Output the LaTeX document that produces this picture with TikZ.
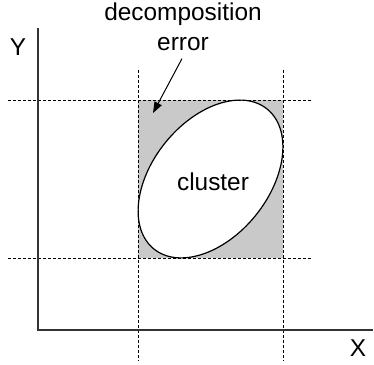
\documentclass[tikz,border=0pt]{standalone}
\usepackage{fontspec}
\setmainfont{Liberation Sans}
\usetikzlibrary{arrows.meta, calc}
\tikzset{
  axis/.style={
    line width=0.65pt,
    draw=black!80
  },
  guide/.style={
    line width=0.45pt,
    dash pattern=on 1.5pt off 1pt
  },
  errorzone/.style={
    fill=gray!42,
    draw=none
  },
  clusterline/.style={
    line width=0.6pt,
    fill=white
  },
  label/.style={
    font=\fontsize{12.2}{15}\selectfont,
    align=center,
    inner sep=0pt
  },
  pointer/.style={
    line width=0.5pt,
    -{Triangle[length=5.5pt, width=4pt]}
  }
}
\begin{document}
\begin{tikzpicture}[x=0.5pt, y=0.5pt]
  \useasboundingbox (0,0) rectangle (374,364);

  % --- ERROR ZONE AND CLUSTER ---
  \fill[errorzone] (138,106) rectangle (283,264);
  \coordinate (C) at (210.5,185);
  \draw[clusterline] (C) ellipse [x radius=90, y radius=58, rotate=51];
  \node (cluster) [label] at (213,182) {cluster};

  % --- GUIDE LINES ---
  \draw[guide] (138,294) -- (138,3);
  \draw[guide] (283,294) -- (283,3);
  \draw[guide] (8,264) -- (312,264);
  \draw[guide] (8,106) -- (312,106);

  % --- AXES ---
  \coordinate (O) at (38,34);
  \draw[axis] (38,336) -- (O) -- (373,34);
  \node (Ylab) [label] at (18,317) {Y};
  \node (Xlab) [label] at (358,16) {X};

  % --- ANNOTATION ---
  \node (error) [label, anchor=base] at (183,313) {decomposition\\error};
  \coordinate (E) at (153,251);
  \draw[pointer] ($(error.south)+(-1,-7)$) -- (E);

\end{tikzpicture}
\end{document}
